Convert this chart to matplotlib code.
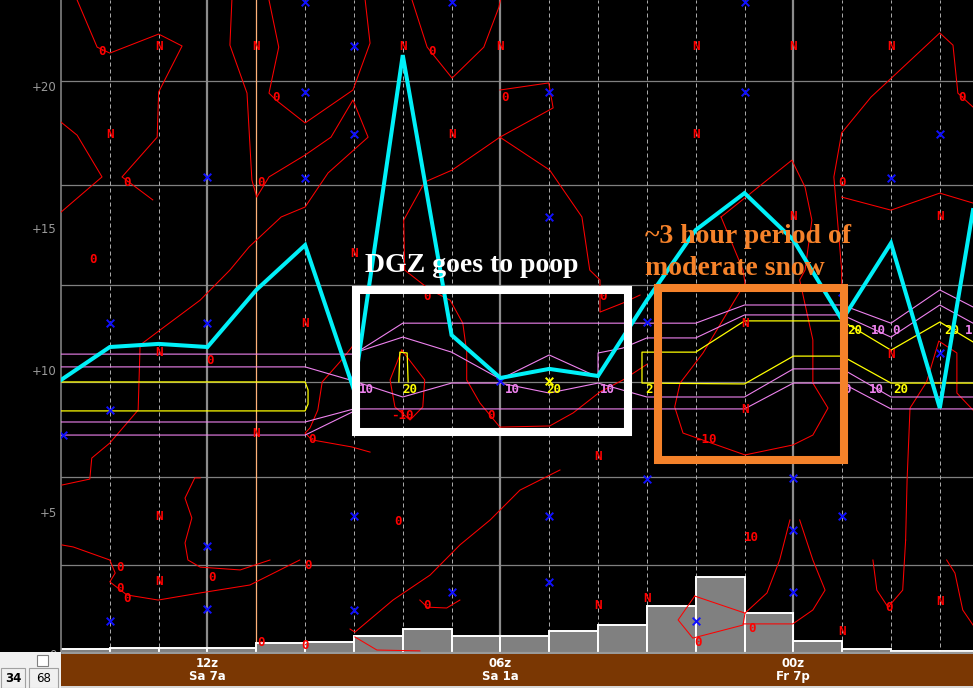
import matplotlib
matplotlib.use('Agg')
import matplotlib.pyplot as plt
from matplotlib.patches import Rectangle

W, H, DPI = 973, 688, 100

# ---------------- data ----------------
x_max = 18.68
y_max = 23.03
level_gridlines = [20.18, 16.51, 12.99, 9.58, 6.23, 3.13]
ytick_vals = [0, 5, 10, 15, 20]
ytick_txt = ['0', '+5', '+10', '+15', '+20']
time_cols = [3, 9, 15]
time_labels = ['12z\nSa 7a', '06z\nSa 1a', '00z\nFr 7p']
dashed_cols = [1, 2, 5, 6, 7, 8, 10, 11, 12, 13, 14, 16, 17, 18]
orange_col = 4

cyan_x = [0, 1, 2, 3, 4, 5, 6, 7, 8, 9, 10, 11, 12, 13, 14, 15, 16, 17, 18, 18.68]
cyan_y = [9.65, 10.81, 10.92, 10.81, 12.82, 14.40, 9.30, 21.09, 11.23, 9.72,
          10.04, 9.79, 12.46, 14.93, 16.23, 14.58, 11.76, 14.47, 8.66, 15.63]

bar_left = list(range(19))
bar_height = [0.18, 0.21, 0.21, 0.21, 0.39, 0.42, 0.63, 0.88, 0.63, 0.63,
              0.81, 1.02, 1.69, 2.71, 1.44, 0.46, 0.18, 0.11, 0.11]

pinkA_x = [0, 6, 7, 13, 14, 16, 17, 18, 18.68]
pinkA_y = [10.56, 10.56, 11.65, 11.65, 12.29, 12.29, 11.65, 12.82, 12.22]
pinkB_x = [0, 5, 6, 7, 8, 9, 10, 11, 12, 14, 15, 16, 17, 18.68]
pinkB_y = [10.11, 10.11, 9.61, 9.05, 9.54, 9.54, 9.19, 9.54, 9.05, 9.05, 10.04, 10.04, 9.05, 9.05]
pinkC_x = [6, 7, 8, 9, 10, 11, 11, 11.5, 12, 13, 14, 16, 17, 18, 18.68]
pinkC_y = [10.6, 11.16, 10.63, 9.68, 10.53, 9.75, 10.6, 10.77, 11.13, 11.13, 11.94, 11.94, 11.16, 12.29, 11.65]
pinkD_x = [0, 5, 6, 14, 15, 16, 17, 18.68]
pinkD_y = [8.17, 8.17, 8.63, 8.63, 9.54, 9.54, 8.63, 8.63]
pinkE_x = [0, 5, 6]
pinkE_y = [7.71, 7.71, 8.55]

yellowA_x = [0, 5.0, 5.06, 5.06, 5.0, 0]
yellowA_y = [9.58, 9.58, 9.3, 8.8, 8.56, 8.56]
yellowB_x = [6.92, 6.94, 7.09, 7.11]
yellowB_y = [9.58, 10.63, 10.6, 9.58]
yellowC_x = [18.68, 18, 17, 16, 14, 13, 11.9, 11.9, 14, 15, 16, 17, 18.68]
yellowC_y = [10.99, 11.69, 10.7, 11.73, 11.73, 10.63, 10.63, 9.54, 9.51, 10.49, 10.49, 9.54, 9.54]

red_c1_x = [0.33, 0.74, 1.0, 2.0, 2.48, 2.0, 1.97, 1.25, 1.88]
red_c1_y = [23.03, 21.37, 21.16, 21.83, 21.41, 19.79, 18.2, 16.8, 15.99]
red_c2_x = [0, 0.33, 0.84, 0.29, 0]
red_c2_y = [18.73, 18.27, 16.8, 15.99, 15.56]
red_c3_x = [3.5, 3.46, 3.81, 3.91, 4.01, 4.26, 5.0, 5.53, 5.98, 6.29, 5.47, 5.0, 4.51,
            3.85, 3.46, 2.85, 2.03, 1.62, 1.58, 1.0, 0.63, 0.59, 0.02]
red_c3_y = [23.03, 21.44, 19.75, 16.69, 16.09, 16.8, 17.57, 18.2, 19.51, 18.2, 16.94, 15.74,
            15.39, 14.33, 13.52, 12.46, 11.41, 10.88, 8.59, 7.43, 6.9, 6.16, 5.95]
red_c4_x = [4.26, 4.46, 4.26, 4.4, 5.0, 5.98, 6.33, 6.23]
red_c4_y = [23.03, 21.37, 19.75, 19.51, 18.7, 19.86, 21.51, 23.03]
red_c5_x = [7.19, 7.5, 8.01, 8.66, 8.97, 9.0]
red_c5_y = [23.03, 21.37, 20.28, 21.37, 22.78, 23.03]
red_c6_x = [8.99, 9.99, 10.08, 8.99, 8.01, 7.45, 7.02, 7.04, 7.56, 7.97, 8.23, 8.31,
            8.31, 8.58, 8.99, 10.01, 10.49, 11.04, 11.51, 12.0]
red_c6_y = [19.86, 20.11, 19.23, 18.2, 17.04, 16.62, 15.28, 13.52, 12.82, 12.46, 11.65,
            10.63, 9.65, 8.84, 7.99, 8.03, 8.49, 9.23, 9.65, 10.2]
red_c7_x = [8.99, 10.01, 10.67, 10.83, 11.04, 11.04, 11.51, 11.86]
red_c7_y = [18.2, 17.04, 15.39, 13.52, 13.17, 12.04, 12.36, 12.64]
red_c8_x = [6.98, 6.74, 6.84, 7.15, 7.41, 7.45, 6.98]
red_c8_y = [10.7, 9.65, 8.7, 8.24, 8.7, 9.65, 10.7]
red_c9_x = [6.12, 5.96, 5.71, 5.35, 5.26, 5.1, 5.0, 5.14, 5.96, 6.33]
red_c9_y = [11.41, 10.81, 10.28, 9.58, 8.59, 7.96, 7.78, 7.54, 7.29, 7.11]
red_c10_x = [13.52, 13.97, 14.01, 13.15, 12.68, 12.57, 12.74, 14.01, 14.99, 15.4, 15.71,
             15.4, 15.4, 15.13, 15.24, 15.38, 15.24, 14.97, 13.52]
red_c10_y = [15.39, 13.52, 13.06, 10.6, 9.54, 8.7, 7.78, 7.01, 7.36, 7.71, 8.66,
             9.54, 11.06, 13.17, 13.52, 15.28, 16.44, 17.39, 15.39]
red_c11_x = [15.99, 15.99, 15.83, 15.99, 16.59, 18.0, 18.27, 18.37, 18.68]
red_c11_y = [12.82, 13.52, 16.8, 18.35, 19.61, 21.87, 21.44, 19.75, 19.26]
red_c12_x = [15.99, 17.0, 18.0, 18.68]
red_c12_y = [16.09, 15.63, 16.23, 15.88]
red_c13_x = [17.3, 17.33, 17.39, 17.73, 17.98, 18.35, 18.35, 18.68]
red_c13_y = [4.01, 6.13, 8.66, 9.58, 11.02, 10.6, 9.19, 8.59]
red_c14_x = [0.02, 0.25, 1.0, 1.11, 1.0, 1.35, 1.99, 2.85, 3.87, 4.89]
red_c14_y = [3.84, 3.77, 3.31, 2.85, 2.54, 2.08, 1.9, 2.15, 2.43, 3.31]
red_c15_x = [2.85, 2.74, 2.54, 2.68, 2.54, 2.6, 2.85, 3.67, 4.28]
red_c15_y = [6.2, 6.2, 5.49, 4.79, 3.91, 3.31, 3.06, 2.96, 3.31]
red_c16_x = [5.92, 6.02, 6.8, 7.56, 8.17, 8.79, 9.4, 10.22]
red_c16_y = [0.88, 0.77, 1.9, 2.78, 3.84, 4.72, 5.77, 6.48]
red_c17_x = [6.02, 6.47, 7.35]
red_c17_y = [0.6, 0.14, 0.11]
red_c18_x = [12.98, 12.64, 12.94, 13.97, 14.01, 12.98]
red_c18_y = [2.04, 1.2, 0.56, 1.02, 1.44, 2.04]
red_c19_x = [14.01, 14.46, 14.72, 14.93]
red_c19_y = [1.44, 2.15, 3.31, 4.72]
red_c20_x = [13.97, 14.99, 15.4, 15.65, 15.4, 15.13]
red_c20_y = [1.06, 1.06, 1.55, 2.25, 3.31, 4.72]
red_c21_x = [16.63, 16.71, 16.94, 17.24, 17.3]
red_c21_y = [3.31, 2.25, 1.65, 2.25, 4.01]
red_c22_x = [18.14, 18.31, 18.47, 18.68]
red_c22_y = [3.31, 2.85, 1.55, 1.02]
red_c23_x = [7.35, 7.5, 7.9, 8.17]
red_c23_y = [1.9, 1.65, 1.62, 1.9]

red_lines = [(red_c1_x, red_c1_y), (red_c2_x, red_c2_y), (red_c3_x, red_c3_y),
             (red_c4_x, red_c4_y), (red_c5_x, red_c5_y), (red_c6_x, red_c6_y),
             (red_c7_x, red_c7_y), (red_c8_x, red_c8_y), (red_c9_x, red_c9_y),
             (red_c10_x, red_c10_y), (red_c11_x, red_c11_y), (red_c12_x, red_c12_y),
             (red_c13_x, red_c13_y), (red_c14_x, red_c14_y), (red_c15_x, red_c15_y),
             (red_c16_x, red_c16_y), (red_c17_x, red_c17_y), (red_c18_x, red_c18_y),
             (red_c19_x, red_c19_y), (red_c20_x, red_c20_y), (red_c21_x, red_c21_y),
             (red_c22_x, red_c22_y), (red_c23_x, red_c23_y)]
pink_lines = [(pinkA_x, pinkA_y), (pinkB_x, pinkB_y), (pinkC_x, pinkC_y),
              (pinkD_x, pinkD_y), (pinkE_x, pinkE_y)]
yellow_lines = [(yellowA_x, yellowA_y), (yellowB_x, yellowB_y), (yellowC_x, yellowC_y)]

redN_x = [2, 4, 7, 9, 13, 15, 17, 1, 8, 13, 15, 18, 6, 5, 2, 14, 14, 17, 4, 11, 2, 2, 11, 12, 16, 18]
redN_y = [21.4, 21.4, 21.4, 21.4, 21.4, 21.4, 21.4, 18.3, 18.3, 18.3, 15.4, 15.4, 14.1,
          11.65, 10.6, 11.65, 8.6, 10.55, 7.75, 6.95, 4.85, 2.55, 1.7, 1.95, 0.8, 1.85]
red0_x = [0.85, 7.6, 4.4, 9.1, 18.45, 1.35, 4.1, 16.0, 0.65, 7.5, 11.1, 3.05, 8.8, 5.15,
          6.9, 1.2, 1.2, 1.35, 3.1, 5.05, 7.5, 4.1, 5.0, 13.05, 14.15, 16.95]
red0_y = [21.2, 21.2, 19.6, 19.6, 19.6, 16.6, 16.6, 16.6, 13.9, 12.6, 12.6, 10.35, 8.4, 7.55,
          4.65, 3.05, 2.3, 1.95, 2.7, 3.1, 1.7, 0.4, 0.3, 0.4, 0.9, 1.65]
red_num_x = [14.15, 7.0, 13.2]
red_num_y = [4.1, 8.4, 7.55]
red_num_txt = ['10', '-10', '-10']

blue_x_x = [6, 5, 8, 5, 10, 14, 14, 6, 18, 3, 5, 17, 10, 1, 3, 1, 0.05, 6, 9, 12, 18, 16,
            12, 15, 3, 6, 10, 16, 15, 3, 1, 6, 8, 10, 13, 15]
blue_x_y = [21.4, 22.95, 22.95, 19.8, 19.8, 19.8, 22.95, 18.3, 18.3, 16.8, 16.75, 16.75,
            15.4, 11.65, 11.65, 8.6, 7.7, 9.65, 9.6, 11.7, 10.6, 12.75, 6.15, 6.2, 3.8,
            4.85, 4.85, 4.85, 4.35, 1.6, 1.15, 1.55, 2.2, 2.55, 1.15, 2.2]
yellow_x_x = [10]
yellow_x_y = [9.6]

pink_lbl_x = [6.25, 9.25, 11.2, 16.75, 17.1, 18.6, 16.1, 16.7]
pink_lbl_y = [9.3, 9.3, 9.3, 11.4, 11.4, 11.4, 9.3, 9.3]
pink_lbl_txt = ['10', '10', '10', '10', '0', '1', '0', '10']
yel_lbl_x = [7.15, 10.1, 12.05, 16.25, 18.25, 17.2]
yel_lbl_y = [9.3, 9.3, 9.3, 11.4, 11.4, 9.3]
yel_lbl_txt = ['20', '20', '2', '20', '20', '20']

dgz_box = (6.04, 7.82, 11.61, 12.82)      # x0, y0, x1, y1
snow_box = (12.23, 6.83, 16.04, 12.89)

# ---------------- figure ----------------
fig = plt.figure(figsize=(W / DPI, H / DPI), dpi=DPI, facecolor='black')
ax = fig.add_axes([61 / W, (H - 654) / H, (W - 61) / W, 654 / H])
ax.set_facecolor('black')
ax.set_xlim(0, x_max)
ax.set_ylim(0, y_max)
for s in ['top', 'right', 'bottom']:
    ax.spines[s].set_visible(False)
ax.spines['left'].set_color('#808080')
ax.spines['left'].set_linewidth(1.2)
ax.set_xticks([])
ax.set_yticks(ytick_vals)
ax.set_yticklabels(ytick_txt)
ax.tick_params(axis='y', length=0, pad=3, labelsize=8.5, labelcolor='#9a9a9a')
ax.get_yticklabels()[0].set_y(0.25)

for lv in level_gridlines:
    ax.axhline(lv, color='#808080', lw=0.9, zorder=1)
for c in dashed_cols:
    ax.axvline(c, color='#a8a8a8', lw=0.72, ls=(0, (4, 3)), zorder=1)
for c in time_cols:
    ax.axvline(c, color='#8c8c8c', lw=1.6, zorder=1)
ax.axvline(orange_col, color='#ffb27a', lw=0.9, zorder=1.5)

# precipitation bars
ax.bar(bar_left, bar_height, width=1.0, align='edge', color='#808080',
       edgecolor='white', linewidth=1.4, zorder=2)
ax.axhline(0.04, color='#9a9a9a', lw=1.6, zorder=2.5)

for xs, ys in red_lines:
    ax.plot(xs, ys, color='#ff0000', lw=0.75, zorder=3)
for xs, ys in pink_lines:
    ax.plot(xs, ys, color='#ee82ee', lw=0.8, zorder=3.2)
for xs, ys in yellow_lines:
    ax.plot(xs, ys, color='#ffff00', lw=0.9, zorder=3.3)

mono = dict(family='DejaVu Sans Mono', weight='bold', ha='center', va='center')
for x, y in zip(redN_x, redN_y):
    ax.text(x, y, 'N', color='#ff0000', fontsize=9, zorder=4, **mono)
for x, y in zip(red0_x, red0_y):
    ax.text(x, y, '0', color='#ff0000', fontsize=9, zorder=4, **mono)
for x, y, t in zip(red_num_x, red_num_y, red_num_txt):
    ax.text(x, y, t, color='#ff0000', fontsize=9, zorder=4, **mono)
for x, y, t in zip(pink_lbl_x, pink_lbl_y, pink_lbl_txt):
    ax.text(x, y, t, color='#ee82ee', fontsize=9, zorder=4, **mono)
for x, y, t in zip(yel_lbl_x, yel_lbl_y, yel_lbl_txt):
    ax.text(x, y, t, color='#ffff00', fontsize=9, zorder=4, **mono)

ax.scatter(blue_x_x, blue_x_y, marker='x', s=30, color='#1010ff', linewidths=1.4, zorder=4)
ax.scatter(yellow_x_x, yellow_x_y, marker='x', s=30, color='#ffff00', linewidths=1.4, zorder=4)

ax.plot(cyan_x, cyan_y, color='#00f0f8', lw=2.9, zorder=5, solid_joinstyle='miter')

# annotation boxes and text
for (x0, y0, x1, y1), col in [(dgz_box, 'white'), (snow_box, '#f5822a')]:
    ax.add_patch(Rectangle((x0, y0), x1 - x0, y1 - y0, fill=False,
                           edgecolor=col, lw=5.8, zorder=6, joinstyle='miter'))
ax.text(6.23, 13.45, 'DGZ goes to poop', color='white', fontsize=20,
        family='Liberation Serif', weight='bold', ha='left', va='baseline', zorder=7)
ax.text(11.96, 14.47, '~3 hour period of', color='#f5822a', fontsize=20,
        family='Liberation Serif', weight='bold', ha='left', va='baseline', zorder=7)
ax.text(11.96, 13.35, 'moderate snow', color='#f5822a', fontsize=20,
        family='Liberation Serif', weight='bold', ha='left', va='baseline', zorder=7)

# brown time bar
axb = fig.add_axes([61 / W, (H - 686) / H, (W - 61) / W, 32 / H])
axb.set_facecolor('#7a3703')
axb.set_xlim(0, x_max)
axb.set_ylim(0, 1)
axb.set_xticks([])
axb.set_yticks([])
for s in axb.spines.values():
    s.set_visible(False)
for c, t in zip(time_cols, time_labels):
    axb.text(c, 0.5, t, color='white', fontsize=8.5, weight='bold', ha='center',
             va='center', linespacing=1.0)

# bottom strips / left panel
def fig_rect(px0, py0, px1, py1, **kw):
    fig.add_artist(Rectangle((px0 / W, (H - py1) / H), (px1 - px0) / W, (py1 - py0) / H,
                             transform=fig.transFigure, **kw))

fig_rect(0, 686, W, H, facecolor='#d8d8d8', edgecolor='none', zorder=10)
fig_rect(0, 652, 61, H, facecolor='#f0f0f0', edgecolor='none', zorder=10)
fig_rect(37, 655, 48, 666, facecolor='white', edgecolor='#808080', lw=0.8, zorder=11)
fig_rect(0.5, 668, 25, 687.5, facecolor='#f0f0f0', edgecolor='#a0a0a0', lw=0.8, zorder=11)
fig_rect(29, 668, 58, 687.5, facecolor='#f0f0f0', edgecolor='#a0a0a0', lw=0.8, zorder=11)
fig.text(13 / W, (H - 678) / H, '34', color='black', fontsize=8.5, weight='bold',
         ha='center', va='center', zorder=12)
fig.text(44 / W, (H - 678) / H, '68', color='black', fontsize=8.5,
         ha='center', va='center', zorder=12)

fig.savefig('out.png', dpi=DPI, facecolor='black')
